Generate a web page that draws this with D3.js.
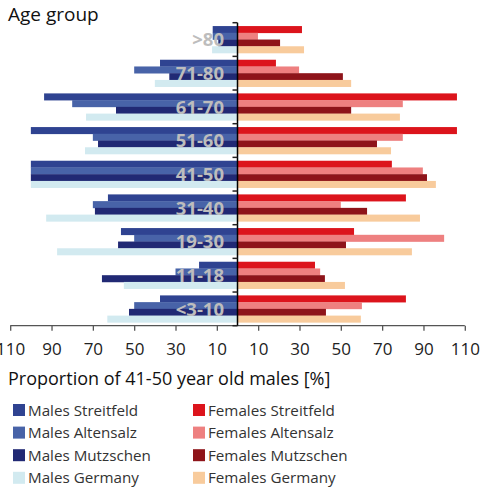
<!DOCTYPE html>
<html><head><meta charset="utf-8">
<script src="https://cdn.jsdelivr.net/npm/d3@7"></script>
<style>
body{margin:0;background:#fff;}
svg{display:block;font-family:"Open Sans",sans-serif;}
</style></head>
<body>
<svg id="c" width="481" height="488"></svg>
<script>
const categories = [">80","71-80","61-70","51-60","41-50","31-40","19-30","11-18","<3-10"];
const males = ["Males Streitfeld","Males Altensalz","Males Mutzschen","Males Germany"];
const females = ["Females Streitfeld","Females Altensalz","Females Mutzschen","Females Germany"];
const maleColors = ["#2f4391","#4863a8","#212974","#d2eaf0"];
const femaleColors = ["#dc141c","#ee8080","#8e141a","#f8cb9c"];
// values per category, order of series
const malesStreitfeld  = [12, 37.5, 93.6, 100, 100, 62.7, 56.4, 18.6, 37.5];
const malesAltensalz   = [12, 50, 80, 70, 100, 70, 50, 30, 50];
const malesMutzschen   = [9.3, 33, 58.8, 67.5, 100, 69, 57.8, 65.6, 52.5];
const malesGermany     = [12.3, 40, 73.3, 73.8, 100, 92.6, 87.3, 55, 63];
const femalesStreitfeld= [31.2, 18.6, 106.2, 106.2, 74.7, 81.5, 56.4, 37.5, 81.5];
const femalesAltensalz = [9.9, 29.8, 80, 80, 89.7, 50, 100, 40, 60.2];
const femalesMutzschen = [20.6, 51, 55, 67.5, 91.7, 62.7, 52.5, 42.3, 42.8];
const femalesGermany   = [32.2, 55, 78.6, 74.3, 96, 88.3, 84.4, 52, 59.7];
const tickValues = [-110,-90,-70,-50,-30,-10,10,30,50,70,90,110];

const maleSeries = [malesStreitfeld, malesAltensalz, malesMutzschen, malesGermany];
const femaleSeries = [femalesStreitfeld, femalesAltensalz, femalesMutzschen, femalesGermany];

const svg = d3.select("#c");
const x = d3.scaleLinear().domain([-110,110]).range([10.2,464.8]);
const y = d3.scaleBand().domain(categories).range([22.7,325.7]).padding(0);
const y1 = d3.scaleBand().domain(d3.range(4)).range([0,y.bandwidth()]).paddingInner(0).paddingOuter(0.5);

const rows = [];
categories.forEach((c,ci)=>{
  maleSeries.forEach((s,si)=>rows.push({c, si, v:-s[ci], color:maleColors[si]}));
  femaleSeries.forEach((s,si)=>rows.push({c, si, v:s[ci], color:femaleColors[si]}));
});

svg.append("g").selectAll("rect").data(rows).join("rect")
  .attr("x", d=>Math.min(x(0), x(d.v)))
  .attr("width", d=>Math.abs(x(d.v)-x(0)))
  .attr("y", d=>y(d.c)+y1(d.si))
  .attr("height", y1.bandwidth()+0.3)
  .attr("fill", d=>d.color);

// category labels
svg.append("g").selectAll("text").data(categories).join("text")
  .attr("x", 224)
  .attr("y", d=>y(d)+y.bandwidth()/2)
  .attr("dy","0.36em")
  .attr("text-anchor","end")
  .attr("font-weight","bold")
  .attr("font-size",18.5)
  .attr("fill","#bdbdbd")
  .text(d=>d);

// bottom axis
const ax = svg.append("g").attr("transform",`translate(0,${325.7})`)
  .call(d3.axisBottom(x).tickValues(tickValues).tickFormat(d=>Math.abs(d)).tickSize(5).tickSizeOuter(0));
ax.select(".domain").attr("stroke","#555").attr("stroke-width",1.3);
ax.selectAll(".tick line").attr("stroke","#555").attr("stroke-width",1.3);
ax.selectAll(".tick text").attr("font-size",17).attr("fill","#222").attr("font-family","Open Sans").attr("dy","1.25em");
ax.select(".domain").attr("d",`M${x(-110)},0H${x(110)}`);

// vertical axis with ticks at band boundaries
const bounds = categories.map(c=>y(c)).concat([y.range()[1]]);
const vg = svg.append("g");
vg.append("line").attr("x1",x(0)).attr("x2",x(0)).attr("y1",bounds[0]).attr("y2",bounds[bounds.length-1])
  .attr("stroke","#000").attr("stroke-width",1.5);
vg.selectAll("line.t").data(bounds).join("line").attr("class","t")
  .attr("x1",x(0)-5).attr("x2",x(0)).attr("y1",d=>d).attr("y2",d=>d)
  .attr("stroke","#222").attr("stroke-width",1.5);

// titles
svg.append("text").attr("x",8).attr("y",21).attr("font-size",19).attr("fill","#111").text("Age group");
svg.append("text").attr("x",8).attr("y",385).attr("font-size",18).attr("fill","#111").text("Proportion of 41-50 year old males [%]");

// legend
const leg = svg.append("g");
[[males,maleColors,13],[females,femaleColors,193]].forEach(([names,cols,lx])=>{
  names.forEach((n,i)=>{
    const ly = 404 + i*22.6;
    leg.append("rect").attr("x",lx).attr("y",ly).attr("width",12).attr("height",12).attr("fill",cols[i]);
    leg.append("text").attr("x",lx+15).attr("y",ly+11.5).attr("font-size",15.2).attr("fill","#333").text(n);
  });
});
</script>
</body></html>
